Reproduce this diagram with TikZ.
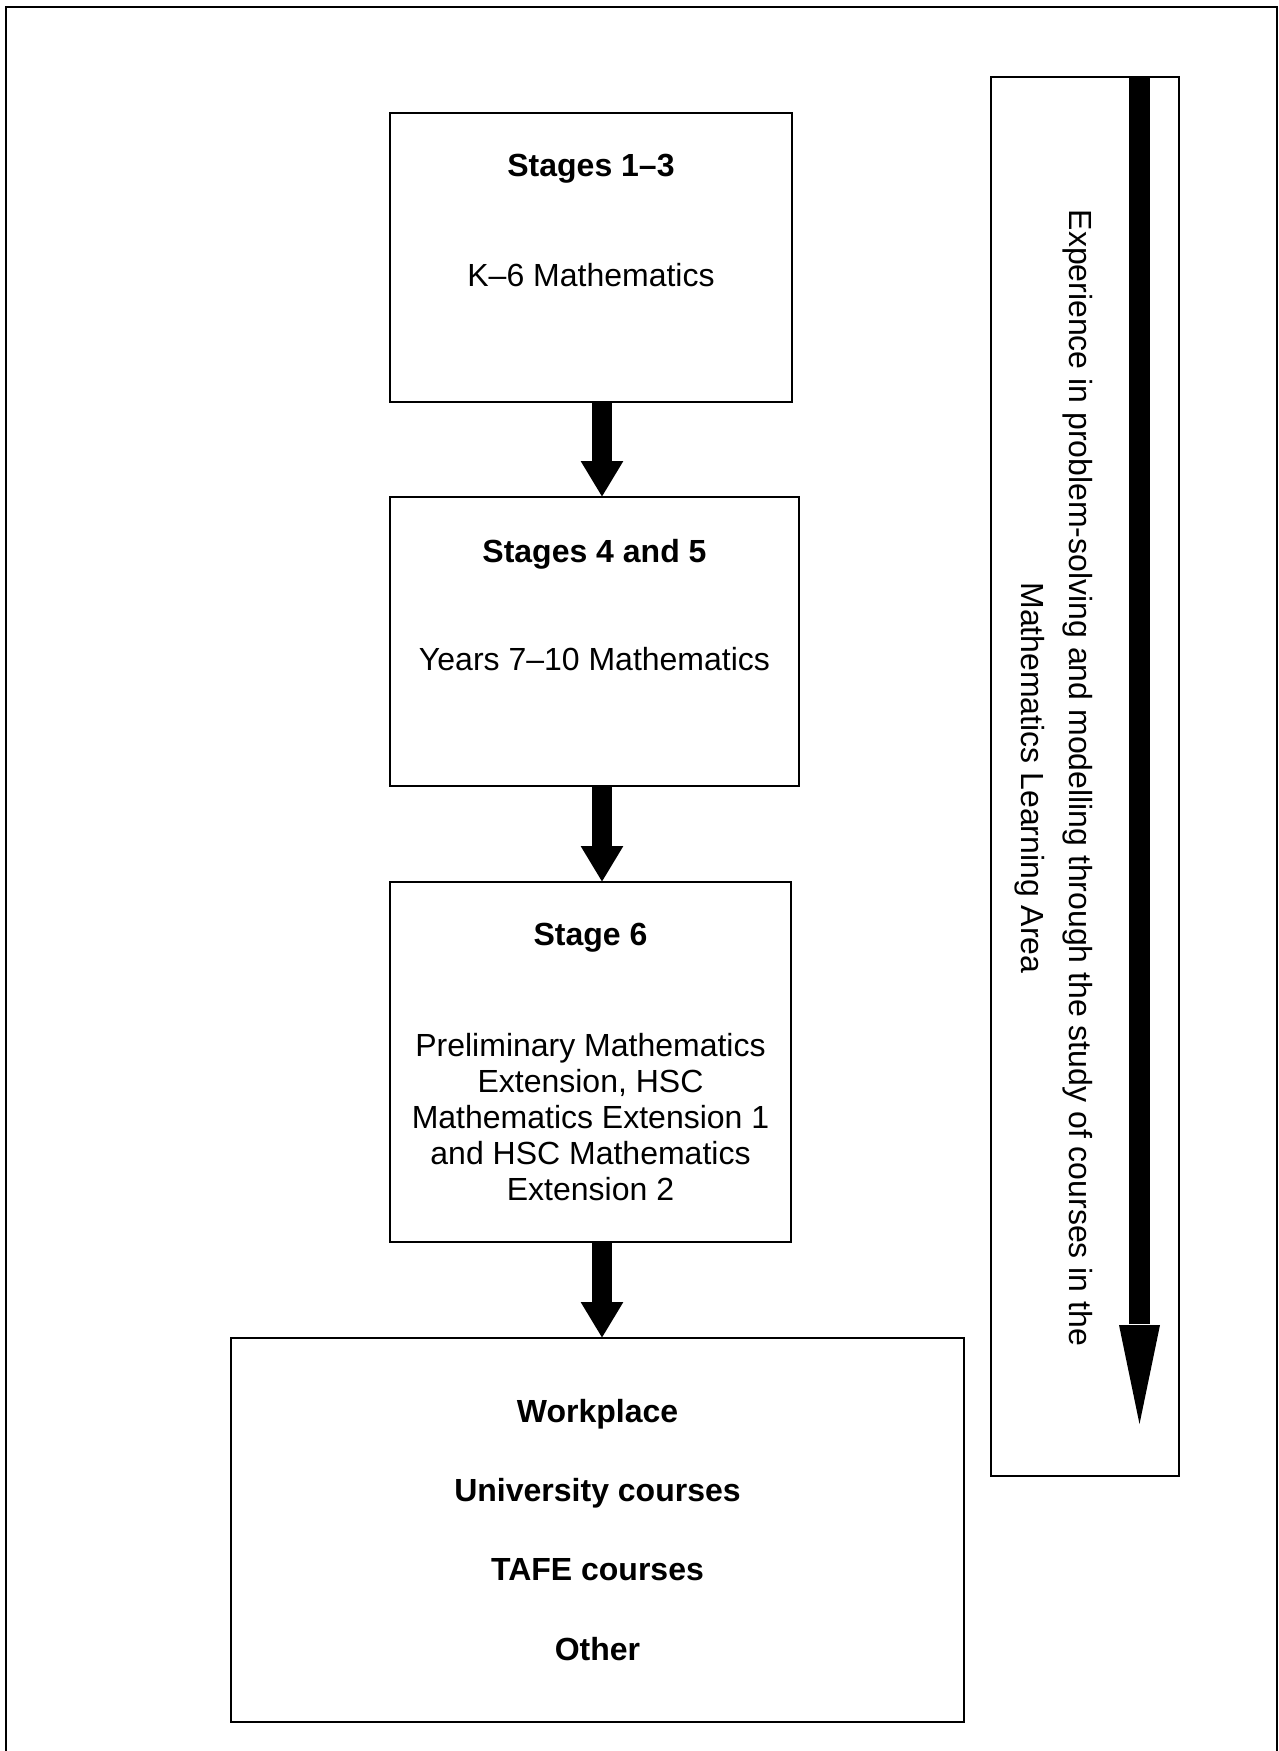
\documentclass[tikz,border=0pt]{standalone}
\usepackage{fontspec}
\setmainfont{Liberation Sans}
\usetikzlibrary{arrows.meta}
\begin{document}
\begin{tikzpicture}[x=0.5pt,y=-0.5pt,
  box/.style={draw,line width=1pt,inner sep=0pt,outer sep=0pt},
  txt/.style={font=\fontsize{16pt}{18pt}\selectfont,inner sep=0pt,anchor=base},
  boldtxt/.style={font=\fontsize{16pt}{18pt}\selectfont\bfseries,inner sep=0pt,anchor=base},
  fat/.style={line width=10pt,-{Triangle[length=18pt,width=20pt]}},
]
\useasboundingbox (0,0) rectangle (1279,1751);
% outer frame (open at the bottom)
\coordinate (fbl) at (6,1760);
\coordinate (ftl) at (6,7);
\coordinate (ftr) at (1277,7);
\coordinate (fbr) at (1277,1760);
\draw[line width=1pt] (fbl) -- (ftl) -- (ftr) -- (fbr);

% boxes
\node[box,minimum width=201pt,minimum height=144.5pt] (b1) at (591,257.5) {};
\node[boldtxt] (t1) at (591,176) {Stages 1–3};
\node[txt] (s1) at (591,286) {K–6 Mathematics};

\node[box,minimum width=204.5pt,minimum height=144.5pt] (b2) at (594.5,641.5) {};
\node[boldtxt] (t2) at (594.5,562) {Stages 4 and 5};
\node[txt] (s2) at (594.5,670) {Years 7–10 Mathematics};

\node[box,minimum width=200.5pt,minimum height=180pt] (b3) at (590.5,1062) {};
\node[boldtxt] (t3) at (590.5,945) {Stage 6};
\node[txt,anchor=center,align=center] (s3) at (590.5,1117) {Preliminary Mathematics\\Extension, HSC\\Mathematics Extension 1\\and HSC Mathematics\\Extension 2};

\node[box,minimum width=366.5pt,minimum height=192pt] (b4) at (597.5,1530) {};
\node[boldtxt] (o1) at (597.5,1422) {Workplace};
\node[boldtxt] (o2) at (597.5,1501) {University courses};
\node[boldtxt] (o3) at (597.5,1580) {TAFE courses};
\node[boldtxt] (o4) at (597.5,1660) {Other};

% arrows between boxes
\coordinate (ax) at (602,0);
\draw[fat] (b1.south -| ax) -- (b2.north -| ax);
\draw[fat] (b2.south -| ax) -- (b3.north -| ax);
\draw[fat] (b3.south -| ax) -- (b4.north -| ax);

% right box
\node[box,minimum width=94pt,minimum height=699.5pt] (rb) at (1085,776.5) {};
\coordinate (rhead) at (1139.5,1325);
\coordinate (rtip) at (1139.5,1424);
\draw[line width=10.5pt] (rb.north -| rhead) -- ([yshift=0.5pt]rhead);
\fill (rhead) ++(-20.5,0) -- ++(41,0) -- (rtip) -- cycle;
\node[anchor=center,align=center,rotate=-90,inner sep=0pt,font=\fontsize{16pt}{24pt}\selectfont] (vt) at (1054,778) {Experience in problem-solving and modelling through the study of courses in the\\Mathematics Learning Area};
\end{tikzpicture}
\end{document}
